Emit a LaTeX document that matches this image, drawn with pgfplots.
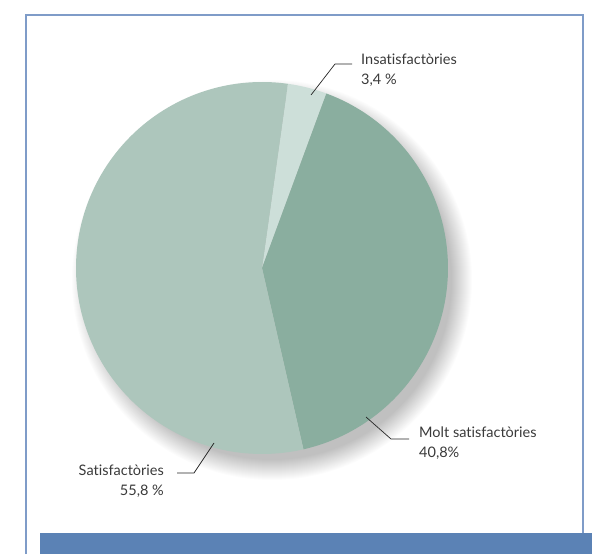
\documentclass[border=0pt]{standalone}
\usepackage{pgfplots}
\pgfplotsset{compat=1.18}
\usepackage{fontspec}
\setmainfont{Lato}[Ligatures={NoCommon}]
\definecolor{cSat}{HTML}{ADC6BC}
\definecolor{cMolt}{HTML}{8AAE9F}
\definecolor{cIns}{HTML}{CDDFD9}
\definecolor{cBorder}{HTML}{7F9CC8}
\definecolor{cBar}{HTML}{5B82B5}
\definecolor{cText}{HTML}{3A3A3A}
% shares (%)
\def\pIns{3.4}
\def\pMolt{40.8}
\def\pSat{55.8}
\def\pieStart{82}
\tikzset{lbl/.style={font=\fontsize{14.5}{20}\selectfont, text=cText, inner sep=0pt}}
\begin{document}
\begin{tikzpicture}
\begin{axis}[
  at={(0,0)}, anchor=south west,
  scale only axis, width=592pt, height=554pt,
  xmin=0, xmax=592, ymin=0, ymax=554,
  axis lines=none, clip=false,
]
% background
\fill[white] (axis cs:0,0) rectangle (axis cs:592,554);
% frame
\draw[cBorder, line width=1.3pt] (axis cs:26,0) -- (axis cs:26,539) -- (axis cs:583,539) -- (axis cs:583,21);
% bottom bar
\fill[cBar] (axis cs:40,0) rectangle (axis cs:592,21);
% soft shadow
\pgfplotsinvokeforeach{0,...,20}{
  \fill[black, opacity=0.010] (axis cs:272,274) circle[radius={200-#1}];
}
% slices
\addplot[fill=cIns, draw=none, domain={\pieStart-\pIns*3.6}:{\pieStart}, samples=20, variable=\t]
  ({262+186*cos(t)},{286+186*sin(t)}) -- (axis cs:262,286) -- cycle;
\addplot[fill=cMolt, draw=none, domain={\pieStart-(\pIns+\pMolt)*3.6}:{\pieStart-\pIns*3.6}, samples=120, variable=\t]
  ({262+186*cos(t)},{286+186*sin(t)}) -- (axis cs:262,286) -- cycle;
\addplot[fill=cSat, draw=none, domain={\pieStart-(\pIns+\pMolt+\pSat)*3.6}:{\pieStart-(\pIns+\pMolt)*3.6}, samples=160, variable=\t]
  ({262+186*cos(t)},{286+186*sin(t)}) -- (axis cs:262,286) -- cycle;
% leader lines
\draw[black!85, line width=0.7pt] (axis cs:311,459) -- (axis cs:335,490) -- (axis cs:352,490);
\draw[black!85, line width=0.7pt] (axis cs:366,137) -- (axis cs:391,115) -- (axis cs:409,115);
\draw[black!85, line width=0.7pt] (axis cs:214,111) -- (axis cs:194,81) -- (axis cs:177,81);
% labels
\node[lbl, anchor=west, align=left] at (axis cs:361,484) {Insatisfactòries\\3,4 \%};
\node[lbl, anchor=west, align=left] at (axis cs:419,111) {Molt satisfactòries\\40,8\%};
\node[lbl, anchor=east, align=right] at (axis cs:164,73) {Satisfactòries\\55,8 \%\hspace{6pt}};
\end{axis}
\end{tikzpicture}
\end{document}
